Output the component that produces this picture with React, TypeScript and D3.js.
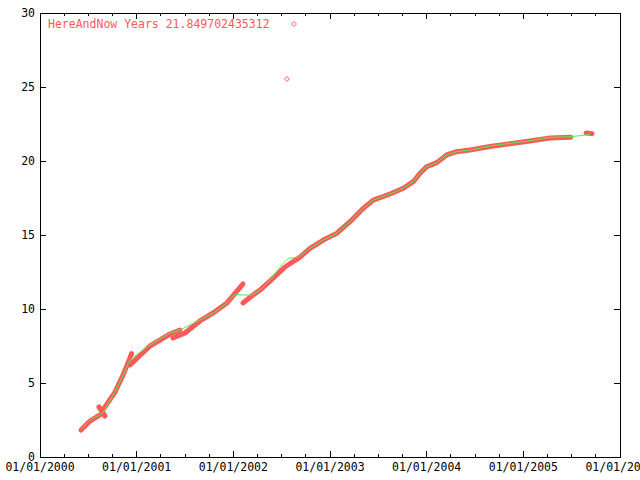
import React from "react";
import * as d3 from "d3";

// Decimal years (x) and values (y)
const redSegments: [number, number][][] = [
  [[2000.424, 1.82], [2000.517, 2.43], [2000.62, 2.84]],
  [[2000.61, 3.38], [2000.672, 2.77]],
  [[2000.652, 3.18], [2000.776, 4.39], [2000.859, 5.54], [2000.91, 6.35], [2000.947, 6.99]],
  [[2000.931, 6.22], [2001.138, 7.5], [2001.345, 8.31], [2001.448, 8.58]],
  [[2001.376, 8.04], [2001.5, 8.38], [2001.655, 9.19], [2001.79, 9.73], [2001.934, 10.41], [2002.1, 11.69]],
  [
    [2002.1, 10.41], [2002.19, 10.88], [2002.276, 11.28], [2002.379, 11.89], [2002.534, 12.84],
    [2002.69, 13.51], [2002.793, 14.1], [2002.931, 14.66], [2003.069, 15.11], [2003.207, 15.9],
    [2003.344, 16.8], [2003.448, 17.36], [2003.621, 17.77], [2003.758, 18.16], [2003.862, 18.6],
    [2003.931, 19.17], [2004.0, 19.61], [2004.104, 19.89], [2004.207, 20.41], [2004.31, 20.63],
    [2004.448, 20.74], [2004.655, 20.98], [2004.862, 21.17], [2005.069, 21.35], [2005.276, 21.55],
    [2005.49, 21.6],
  ],
  [[2005.65, 21.89], [2005.71, 21.85]],
];

const greenLine: [number, number][] = [
  [2000.424, 1.87], [2000.517, 2.5], [2000.649, 2.95], [2000.776, 4.41], [2000.862, 5.54],
  [2000.913, 6.33], [2000.949, 6.67], [2001.138, 7.57], [2001.345, 8.36], [2001.448, 8.58],
  [2001.655, 9.26], [2001.793, 9.71], [2001.931, 10.39], [2002.017, 10.99], [2002.103, 10.95],
  [2002.19, 10.93], [2002.276, 11.28], [2002.379, 11.96], [2002.5, 12.97], [2002.569, 13.43],
  [2002.672, 13.49], [2002.793, 14.1], [2002.931, 14.66], [2003.069, 15.11], [2003.207, 15.9],
  [2003.344, 16.8], [2003.448, 17.36], [2003.621, 17.77], [2003.758, 18.16], [2003.862, 18.6],
  [2003.931, 19.17], [2004.0, 19.61], [2004.104, 19.89], [2004.207, 20.41], [2004.31, 20.63],
  [2004.448, 20.74], [2004.655, 21.01], [2004.862, 21.2], [2005.069, 21.37], [2005.276, 21.6],
  [2005.483, 21.64], [2005.586, 21.71], [2005.69, 21.8],
];

const outliers: [number, number][] = [[2002.555, 25.54]];

const yearTicks = [2000, 2001, 2002, 2003, 2004, 2005, 2006];
const yTicks = [0, 5, 10, 15, 20, 25, 30];
const legendLabel = "HereAndNow Years 21.849702435312";

const RED = "#ff5a5a";
const GREEN = "#4cf04c";
const FONT = "'DejaVu Sans Mono', 'Liberation Mono', monospace";

export default function App() {
  const W = 640, H = 480;
  const left = 40, right = 620, top = 13, bottom = 457;
  const x = d3.scaleLinear().domain([2000, 2006]).range([left, right]);
  const y = d3.scaleLinear().domain([0, 30]).range([bottom, top]);
  const line = d3.line<[number, number]>().x(d => x(d[0])).y(d => y(d[1]));
  const minor: number[] = [];
  for (let yr = 2000; yr < 2006; yr++) for (let q = 1; q < 4; q++) minor.push(yr + q / 4);
  const diamond = (cx: number, cy: number, r: number) =>
    `M${cx},${cy - r}L${cx + r},${cy}L${cx},${cy + r}L${cx - r},${cy}Z`;

  return (
    <svg width={W} height={H} style={{ position: "absolute", left: 0, top: 0, background: "#fff" }}>
      <rect x={0} y={0} width={W} height={H} fill="#fff" />
      {/* data */}
      {redSegments.map((seg, i) => (
        <path key={i} d={line(seg) || ""} fill="none" stroke={RED} strokeWidth={5} strokeLinejoin="round" strokeLinecap="round" />
      ))}
      <path d={line(greenLine) || ""} fill="none" stroke={GREEN} strokeWidth={1} />
      {outliers.map((p, i) => (
        <path key={i} d={diamond(x(p[0]), y(p[1]), 2.5)} fill="none" stroke={RED} strokeWidth={1} />
      ))}
      {/* frame */}
      <rect x={left} y={top} width={right - left} height={bottom - top} fill="none" stroke="#000" strokeWidth={1} shapeRendering="crispEdges" />
      {yearTicks.map(t => (
        <g key={t} shapeRendering="crispEdges">
          <line x1={x(t)} x2={x(t)} y1={bottom} y2={bottom - 6} stroke="#000" />
          <line x1={x(t)} x2={x(t)} y1={top} y2={top + 6} stroke="#000" />
          <text x={x(t)} y={471} textAnchor="middle" fontFamily={FONT} fontSize={11.5} fill="#000">
            {"01/01/" + t}
          </text>
        </g>
      ))}
      {minor.map(t => (
        <g key={t} shapeRendering="crispEdges">
          <line x1={x(t)} x2={x(t)} y1={bottom} y2={bottom - 3} stroke="#000" />
          <line x1={x(t)} x2={x(t)} y1={top} y2={top + 3} stroke="#000" />
        </g>
      ))}
      {yTicks.map(v => (
        <g key={v} shapeRendering="crispEdges">
          <line x1={left} x2={left + 6} y1={y(v)} y2={y(v)} stroke="#000" />
          <line x1={right} x2={right - 6} y1={y(v)} y2={y(v)} stroke="#000" />
          <text x={35} y={y(v) + 4} textAnchor="end" fontFamily={FONT} fontSize={11.5} fill="#000">
            {v}
          </text>
        </g>
      ))}
      {/* legend */}
      <text x={48} y={28} fontFamily={FONT} fontSize={11.5} fill={RED}>{legendLabel}</text>
      <path d={diamond(294, 24, 2.5)} fill="none" stroke={RED} strokeWidth={1} />
    </svg>
  );
}
